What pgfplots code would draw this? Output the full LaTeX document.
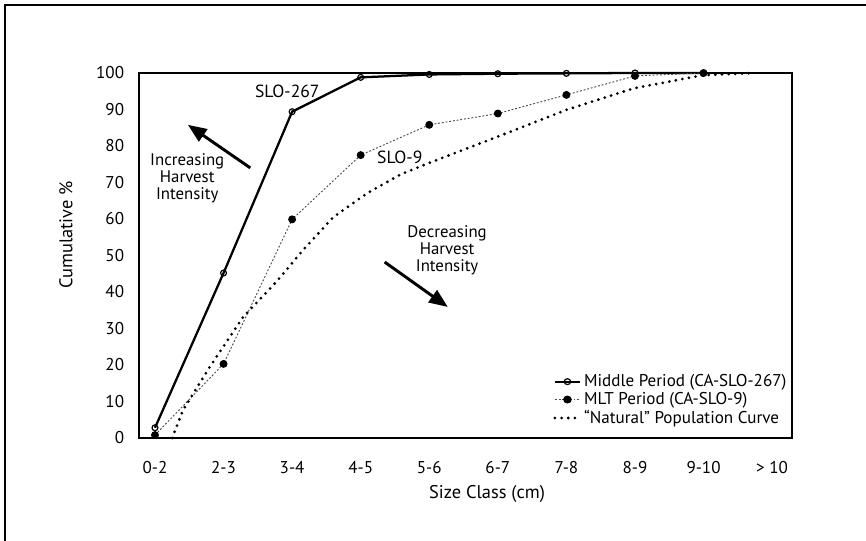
\documentclass[border=0pt]{standalone}
\usepackage{fontspec}
\setmainfont{PT Sans}
\usepackage{pgfplots}
\pgfplotsset{compat=1.18}
\usetikzlibrary{arrows.meta}

\pgfplotstableread{
x y
0 2.8
1 45.2
2 89.4
3 98.8
4 99.6
5 99.8
6 99.9
7 100
8 100
}\middleperiod

\pgfplotstableread{
x y
0 0.8
1 20.3
2 59.9
3 77.5
4 85.8
5 88.9
6 94.0
7 99.2
8 100
}\mltperiod

\pgfplotstableread{
x y
0.25 0
0.41 7.7
0.80 19.5
1.28 33
1.78 43
2.16 51.5
2.60 60.5
3.09 67
3.58 72.2
3.99 75.3
4.99 82.5
6.00 89.9
6.98 95.8
7.99 99.4
8.75 100
}\natural

\begin{document}
\fontsize{12}{14}\selectfont
\begin{tikzpicture}
\useasboundingbox (0,0) rectangle (649.5pt,405.75pt);
\draw[line width=1pt] (3.75pt,-2pt) -- (3.75pt,402pt) -- (652pt,402pt);
\begin{axis}[
  at={(104.25pt,77.25pt)}, anchor=south west,
  scale only axis, width=489.75pt, height=273.75pt,
  xmin=-0.233, xmax=9.29, ymin=0, ymax=100,
  xtick={0,...,9},
  xticklabels={0-2,2-3,3-4,4-5,5-6,6-7,7-8,8-9,9-10,> 10},
  ytick={0,10,...,100},
  major tick length=0pt,
  axis line style={line width=2pt},
  /pgf/number format/assume math mode=true,
  tick label style={font=\fontsize{12.8}{14}\selectfont},
  yticklabel shift=7pt,
  xticklabel shift=13.5pt,
  xlabel={Size Class (cm)},
  ylabel={Cumulative \%},
  label style={font=\fontsize{13.8}{15}\selectfont},
  xlabel style={at={(axis description cs:0.533,-0.153)}, anchor=center},
  ylabel style={at={(axis description cs:-0.112,0.556)}, anchor=center},
  clip=false,
  legend cell align=left,
  legend style={draw=none, fill=none, at={(axis description cs:1.0,0.018)}, anchor=south east,
    font=\fontsize{12.8}{13}\selectfont, row sep=-1.5pt, inner sep=2pt},
  legend image post style={xscale=1.1},
]
\addplot[black, line width=1.7pt, mark=o, mark size=2.2pt,
  mark options={solid, fill=white, line width=0.9pt}] table {\middleperiod};
\addlegendentry{Middle Period (CA-SLO-267)}
\addplot[black!70, line width=0.7pt, dash pattern=on 1.4pt off 1.4pt, mark=*, mark size=2.6pt,
  mark options={solid, fill=black, draw=black}] table {\mltperiod};
\addlegendentry{MLT Period (CA-SLO-9)}
\addplot[black, line width=2.3pt, line cap=round, dash pattern=on 0pt off 5pt] table {\natural};
\addlegendentry{``Natural'' Population Curve}

\node[font=\fontsize{13.2}{14}\selectfont] at (axis cs:1.93,95.1) {SLO-267};
\node[font=\fontsize{13.2}{14}\selectfont] at (axis cs:3.57,77) {SLO-9};
\node[align=center, font=\fontsize{12.6}{12.6}\selectfont] at (axis cs:0.47,71.2) {Increasing\\Harvest\\Intensity};
\node[align=center, font=\fontsize{12.6}{12.6}\selectfont] at (axis cs:4.26,51.5) {Decreasing\\Harvest\\Intensity};
\draw[line width=2.2pt, -{Triangle[length=14pt, width=11pt]}] (axis cs:1.39,74) -- (axis cs:0.48,85.8);
\draw[line width=2.2pt, -{Triangle[length=14pt, width=11pt]}] (axis cs:3.35,48.2) -- (axis cs:4.27,35.9);
\end{axis}
\end{tikzpicture}
\end{document}
